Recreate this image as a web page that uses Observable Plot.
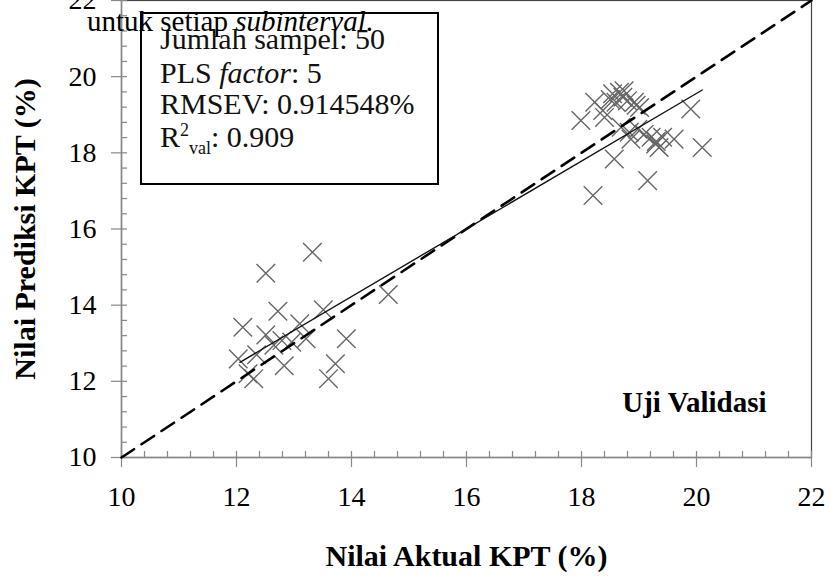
<!DOCTYPE html>
<html>
<head>
<meta charset="utf-8">
<script src="https://cdn.jsdelivr.net/npm/d3@7"></script>
<script src="https://cdn.jsdelivr.net/npm/@observablehq/plot@0.6"></script>
<style>
  html, body { margin: 0; padding: 0; background: white; }
  #wrap { position: relative; width: 831px; height: 576px; overflow: hidden; font-family: "Liberation Serif", "Times New Roman", serif; }
  #box { position: absolute; left: 140px; top: 12px; width: 295px; height: 169px; border: 2px solid #000; box-sizing: content-box; }
  #box div { position: absolute; left: 18px; font-size: 30px; line-height: 1; color: #111; white-space: nowrap; }
  #doc { position: absolute; left: 87px; top: 7px; font-size: 29px; line-height: 1; color: #000; white-space: nowrap; }
  sup, sub { font-size: 18px; line-height: 0; }
</style>
</head>
<body>
<div id="wrap">
  <div id="chart"></div>
  <div id="box">
    <div id="l1" style="top:10px">Jumlah sampel: 50</div>
    <div id="l2" style="top:44px">PLS <i>factor</i>: 5</div>
    <div id="l3" style="top:75px">RMSEV: 0.914548%</div>
    <div id="l4" style="top:108px">R<sup>2</sup><sub>val</sub>: 0.909</div>
  </div>
  <div id="doc">untuk setiap <i>subinterval</i>.</div>
</div>
<script>
// Actual KPT (%) values
const actual = [
  13.32, 12.51, 12.72, 13.51, 14.64, 12.11, 12.51, 13.10, 13.21, 12.79,
  13.91, 12.96, 12.03, 12.35, 12.83, 13.72, 13.60, 12.20, 12.30, 12.65,
  17.99, 18.23, 18.37, 18.40, 18.54, 18.66, 18.72, 18.80, 18.92, 19.01,
  18.60, 18.69, 18.83, 18.98, 19.09, 18.86, 19.21, 19.35, 19.41, 19.29,
  19.61, 19.90, 20.10, 18.57, 19.15, 18.20, 18.74, 18.50, 18.95, 19.30
];
// Predicted KPT (%) values
const predicted = [
  15.39, 14.84, 13.84, 13.88, 14.28, 13.42, 13.22, 13.51, 13.12, 13.07,
  13.12, 13.03, 12.59, 12.70, 12.41, 12.46, 12.07, 12.20, 12.07, 12.95,
  18.85, 19.33, 19.11, 18.93, 19.55, 19.59, 19.46, 19.37, 19.33, 19.19,
  19.33, 18.67, 18.54, 18.62, 18.49, 18.36, 18.41, 18.14, 18.41, 18.23,
  18.36, 19.15, 18.14, 17.84, 17.27, 16.88, 19.63, 19.40, 19.25, 18.30
];
// fitted regression line
const fitX = [12.06, 20.10];
const fitY = [12.50, 19.65];
// identity line
const idX = [10, 22];
const idY = [10, 22];
// ticks
const majorTicks = [10, 12, 14, 16, 18, 20, 22];
const minorTicks = [10.4, 10.8, 11.2, 11.6, 12.4, 12.8, 13.2, 13.6, 14.4, 14.8, 15.2, 15.6,
  16.4, 16.8, 17.2, 17.6, 18.4, 18.8, 19.2, 19.6, 20.4, 20.8, 21.2, 21.6];
const xTitle = "Nilai Aktual KPT (%)";
const yTitle = "Nilai Prediksi KPT (%)";
const panelLabel = "Uji Validasi";

const points = actual.map((a, i) => ({actual: a, predicted: predicted[i]}));
const idLine = idX.map((x, i) => ({x, y: idY[i]}));
const fitLine = fitX.map((x, i) => ({x, y: fitY[i]}));

const axisStroke = "#888";
const chart = Plot.plot({
  width: 831,
  height: 576,
  marginLeft: 121,
  marginRight: 20,
  marginTop: 0,
  marginBottom: 119,
  x: {domain: [10, 22]},
  y: {domain: [10, 22]},
  style: {fontFamily: "Liberation Serif, Times New Roman, serif", background: "white", color: "#000", overflow: "visible"},
  marks: [
    Plot.frame({stroke: "#444", strokeWidth: 1.2}),
    Plot.axisX(majorTicks, {tickSize: 10, tickPadding: 19, fontSize: 28, stroke: axisStroke, strokeWidth: 1.2, label: null, tickFormat: d => d}),
    Plot.axisX(majorTicks, {tickSize: -6, stroke: axisStroke, strokeWidth: 1.2, label: null, tickFormat: () => ""}),
    Plot.axisX(minorTicks, {tickSize: -6, stroke: axisStroke, strokeWidth: 1.2, label: null, tickFormat: () => ""}),
    Plot.axisY(majorTicks, {tickSize: 10, tickPadding: 15, fontSize: 28, stroke: axisStroke, strokeWidth: 1.2, label: null, tickFormat: d => d}),
    Plot.axisY(majorTicks, {tickSize: -6, stroke: axisStroke, strokeWidth: 1.2, label: null, tickFormat: () => ""}),
    Plot.axisY(minorTicks, {tickSize: -6, stroke: axisStroke, strokeWidth: 1.2, label: null, tickFormat: () => ""}),
    Plot.ruleX([10], {stroke: axisStroke, strokeWidth: 1.5}),
    Plot.ruleY([10], {stroke: axisStroke, strokeWidth: 1.5}),
    Plot.dot(points, {x: "actual", y: "predicted", symbol: "times", r: 8.5, stroke: "#666", strokeWidth: 1.4}),
    Plot.line(idLine, {x: "x", y: "y", stroke: "#000", strokeWidth: 2.6, strokeDasharray: "15,9"}),
    Plot.line(fitLine, {x: "x", y: "y", stroke: "#111", strokeWidth: 1.4}),
    Plot.text([panelLabel], {frameAnchor: "bottom-right", dx: -45, dy: -46, text: d => d, fontSize: 29, fontWeight: "bold", textAnchor: "end", fill: "#000"}),
    Plot.text([xTitle], {frameAnchor: "bottom", dy: 108, text: d => d, fontSize: 30, fontWeight: "bold", textAnchor: "middle", fill: "#000"}),
    Plot.text([yTitle], {frameAnchor: "left", dx: -96, rotate: -90, text: d => d, fontSize: 30, fontWeight: "bold", textAnchor: "middle", fill: "#000"})
  ]
});
document.getElementById("chart").appendChild(chart);
</script>
</body>
</html>
